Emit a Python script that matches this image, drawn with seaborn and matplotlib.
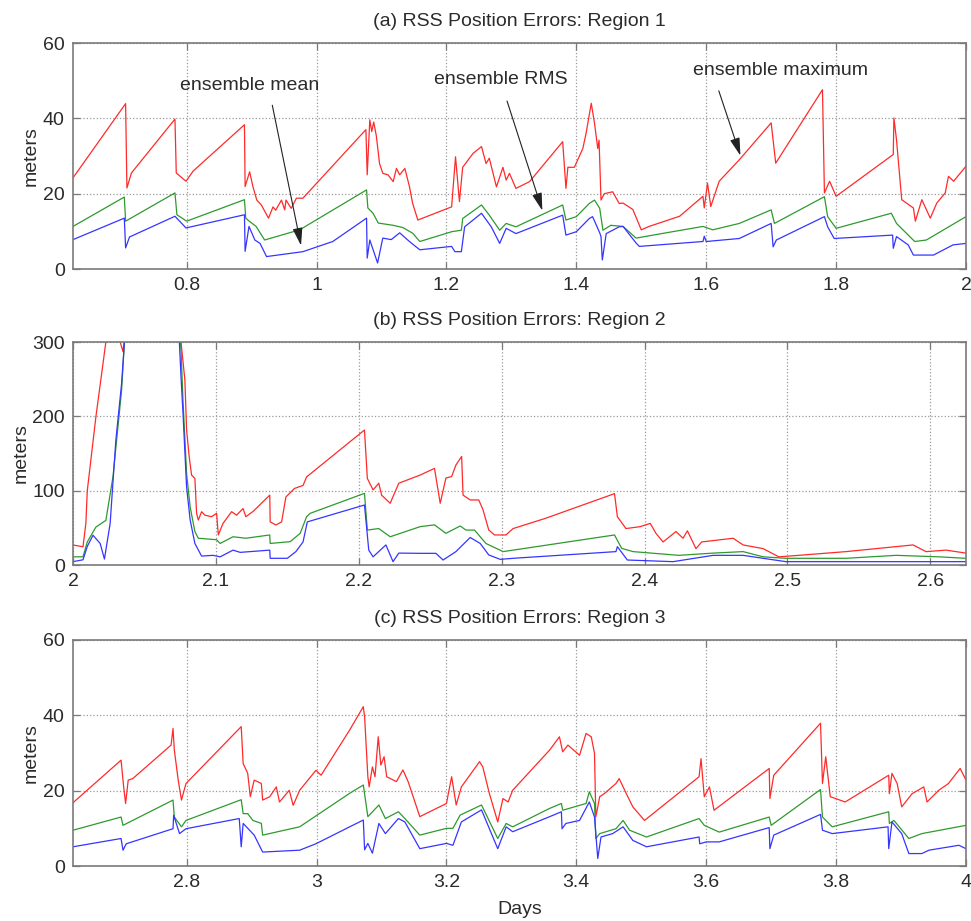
import matplotlib
matplotlib.use("Agg")
import matplotlib.pyplot as plt
import seaborn as sns

# ---------------- data ----------------
# Panel (a) Region 1
a_max_x = [0.625, 0.706, 0.708, 0.715, 0.782, 0.784, 0.799, 0.810, 0.889, 0.890, 0.897, 0.902, 0.908, 0.915, 0.926, 0.933, 0.937, 0.946, 0.951, 0.953, 0.961, 0.969, 0.979, 1.076, 1.078, 1.082, 1.085, 1.088, 1.092, 1.097, 1.102, 1.110, 1.118, 1.123, 1.128, 1.136, 1.143, 1.148, 1.156, 1.208, 1.214, 1.220, 1.225, 1.241, 1.254, 1.261, 1.266, 1.277, 1.287, 1.292, 1.297, 1.307, 1.328, 1.379, 1.384, 1.387, 1.397, 1.410, 1.415, 1.423, 1.428, 1.433, 1.435, 1.438, 1.443, 1.456, 1.466, 1.472, 1.487, 1.500, 1.512, 1.559, 1.595, 1.597, 1.602, 1.607, 1.620, 1.651, 1.700, 1.707, 1.779, 1.782, 1.790, 1.800, 1.888, 1.889, 1.893, 1.901, 1.919, 1.922, 1.932, 1.945, 1.955, 1.968, 1.973, 1.981, 2.0]
a_max_y = [24.2, 43.9, 21.5, 25.5, 39.8, 25.5, 23.3, 26, 38.3, 21.9, 25.8, 21.9, 18.3, 17, 13.5, 16.5, 15.6, 18.3, 15.7, 18.3, 16.1, 18.8, 18.8, 37, 25, 39.6, 36.5, 39, 35.4, 28, 25.4, 25, 23.2, 26.7, 25, 26.7, 21.9, 17.4, 13, 16.5, 29.8, 17.9, 27, 30.7, 32.5, 28, 29.4, 21.8, 27, 23.6, 25.4, 21.4, 23.2, 33.8, 21.4, 27, 27, 32, 36, 44, 38.7, 32, 34.2, 18.3, 20, 20.5, 17.4, 17.5, 15.8, 10.4, 11.3, 14, 19.3, 16.2, 22.8, 16.6, 23.3, 29, 38.8, 28.1, 47.6, 20.2, 23.3, 19.3, 30.4, 40.1, 34.3, 18.4, 16.2, 12.7, 18.4, 13.5, 17.5, 20.2, 24.6, 23.3, 27.3]
a_rms_x = [0.625, 0.704, 0.706, 0.782, 0.785, 0.800, 0.889, 0.891, 0.897, 0.907, 0.920, 0.974, 1.077, 1.079, 1.087, 1.095, 1.118, 1.133, 1.148, 1.159, 1.208, 1.223, 1.225, 1.254, 1.266, 1.282, 1.292, 1.307, 1.379, 1.384, 1.400, 1.420, 1.428, 1.436, 1.441, 1.453, 1.472, 1.492, 1.538, 1.595, 1.610, 1.651, 1.700, 1.705, 1.782, 1.787, 1.800, 1.885, 1.893, 1.921, 1.939, 2.0]
a_rms_y = [11.3, 19.1, 12.7, 20.2, 14.4, 12.7, 18.4, 13.5, 12.6, 11.3, 7.7, 10.4, 21, 16.2, 14.8, 12.2, 11.6, 11, 9.5, 7.3, 9.9, 10.3, 13.4, 17, 14.3, 10.3, 12.1, 11.2, 17, 13, 13.9, 17.4, 18.3, 16.1, 10.3, 11.6, 11.3, 8.2, 9.6, 11.3, 10.4, 12.1, 15.7, 12.1, 19.2, 13.9, 10.8, 14.8, 12.1, 7.3, 7.7, 13.9]
a_mean_x = [0.625, 0.704, 0.706, 0.712, 0.782, 0.799, 0.889, 0.890, 0.896, 0.905, 0.913, 0.923, 0.979, 1.025, 1.077, 1.078, 1.082, 1.094, 1.102, 1.115, 1.128, 1.143, 1.159, 1.208, 1.213, 1.223, 1.228, 1.254, 1.269, 1.282, 1.292, 1.307, 1.379, 1.384, 1.400, 1.420, 1.425, 1.436, 1.438, 1.440, 1.446, 1.466, 1.472, 1.492, 1.497, 1.595, 1.597, 1.600, 1.651, 1.700, 1.703, 1.708, 1.782, 1.787, 1.797, 1.887, 1.888, 1.893, 1.911, 1.919, 1.950, 1.960, 1.980, 2.0]
a_mean_y = [7.8, 13.5, 5.6, 8.5, 14, 10.9, 14.4, 4.7, 11.3, 7.7, 6.8, 3.3, 4.6, 7.3, 13.5, 2.9, 7.7, 1.6, 8.2, 7.8, 9.6, 7.3, 5.1, 6, 4.6, 4.6, 11.2, 14.8, 11.2, 6.8, 10.8, 9.4, 14.3, 9, 9.9, 13.4, 13.9, 9.6, 8.6, 2.4, 9.4, 11.2, 11.3, 6.9, 6, 7.3, 8.7, 7.3, 8.1, 12.1, 5.9, 7.7, 13.9, 11.2, 8.1, 9, 5.5, 8.6, 6.4, 3.7, 3.7, 4.6, 6.4, 6.8]

# Panel (b) Region 2
b_max_x = [2.0, 2.007, 2.009, 2.010, 2.016, 2.023, 2.028, 2.033, 2.035, 2.037, 2.070, 2.0756, 2.0783, 2.0795, 2.0813, 2.083, 2.0853, 2.0865, 2.0877, 2.090, 2.0923, 2.097, 2.1005, 2.1017, 2.105, 2.111, 2.1145, 2.119, 2.121, 2.126, 2.1377, 2.138, 2.142, 2.146, 2.149, 2.155, 2.161, 2.1635, 2.204, 2.206, 2.210, 2.214, 2.216, 2.222, 2.228, 2.243, 2.253, 2.257, 2.261, 2.265, 2.268, 2.272, 2.273, 2.278, 2.284, 2.287, 2.291, 2.295, 2.303, 2.308, 2.331, 2.379, 2.381, 2.387, 2.397, 2.404, 2.408, 2.413, 2.422, 2.427, 2.430, 2.436, 2.440, 2.462, 2.469, 2.483, 2.494, 2.508, 2.541, 2.588, 2.597, 2.611, 2.625]
b_max_y = [26.9, 24.6, 56, 100, 199, 300, 340, 300, 287, 320, 500, 300, 249, 181.6, 146, 121, 116.5, 69.5, 60.5, 71.7, 67, 65, 69.5, 40.4, 56, 71.7, 67, 76, 65, 72, 94, 58, 53.8, 58, 91.5, 103, 107, 118.5, 181.6, 116.5, 101, 110, 94, 83, 110, 121, 130, 83, 117, 119, 134.5, 146, 94, 87.5, 87.5, 74, 47, 40.4, 40.4, 49, 63, 96, 65, 49, 51.6, 56, 42.6, 31, 45, 36, 46, 22, 31, 36, 27, 22, 11, 13, 18, 27, 18, 20, 16]
b_rms_x = [2.0, 2.007, 2.010, 2.016, 2.023, 2.028, 2.034, 2.036, 2.040, 2.072, 2.0756, 2.077, 2.0795, 2.082, 2.0853, 2.0877, 2.1005, 2.103, 2.112, 2.121, 2.1377, 2.138, 2.152, 2.159, 2.1635, 2.166, 2.204, 2.206, 2.214, 2.222, 2.243, 2.253, 2.261, 2.271, 2.275, 2.281, 2.289, 2.301, 2.379, 2.384, 2.392, 2.424, 2.448, 2.469, 2.483, 2.499, 2.541, 2.576, 2.606, 2.625]
b_rms_y = [11, 11, 31, 51, 60, 119, 235, 300, 400, 400, 289, 221, 123, 78, 45, 36, 34, 29, 38, 36, 40.4, 29, 31.4, 42.6, 65, 69.5, 96.4, 47, 49, 38, 51.6, 54, 42.6, 52.5, 47, 47, 29, 18, 40.4, 22.4, 18, 13, 16, 18, 11, 9, 9, 13, 11, 9]
b_mean_x = [2.0, 2.007, 2.010, 2.014, 2.019, 2.022, 2.026, 2.030, 2.034, 2.036, 2.040, 2.072, 2.0756, 2.077, 2.0795, 2.082, 2.0853, 2.090, 2.098, 2.103, 2.112, 2.117, 2.1377, 2.138, 2.150, 2.156, 2.161, 2.164, 2.204, 2.207, 2.210, 2.219, 2.224, 2.228, 2.243, 2.254, 2.259, 2.268, 2.278, 2.285, 2.291, 2.299, 2.308, 2.380, 2.381, 2.388, 2.420, 2.448, 2.469, 2.483, 2.499, 2.625]
b_mean_y = [4.5, 7, 25, 40, 29, 8, 56, 168, 244, 300, 400, 400, 253, 204, 105, 60.5, 29, 12, 13, 11, 20, 17, 20, 9, 9, 18, 31, 58, 80.7, 20, 11, 27, 4.5, 16, 15.7, 15.7, 6.7, 18, 37, 29, 13.5, 7.6, 9, 18, 24.7, 6.7, 4.5, 13, 13, 9, 4.5, 4.5]

# Panel (c) Region 3
c_max_x = [2.625, 2.699, 2.703, 2.706, 2.710, 2.717, 2.776, 2.779, 2.781, 2.787, 2.792, 2.799, 2.884, 2.887, 2.894, 2.898, 2.904, 2.915, 2.917, 2.928, 2.938, 2.943, 2.958, 2.964, 2.974, 2.999, 3.007, 3.051, 3.072, 3.074, 3.079, 3.081, 3.086, 3.090, 3.095, 3.099, 3.104, 3.108, 3.123, 3.133, 3.141, 3.148, 3.159, 3.200, 3.208, 3.215, 3.223, 3.251, 3.256, 3.266, 3.279, 3.287, 3.295, 3.302, 3.359, 3.374, 3.379, 3.387, 3.405, 3.415, 3.423, 3.428, 3.430, 3.436, 3.443, 3.461, 3.466, 3.477, 3.487, 3.505, 3.589, 3.592, 3.597, 3.605, 3.612, 3.697, 3.698, 3.704, 3.776, 3.779, 3.784, 3.791, 3.814, 3.881, 3.882, 3.886, 3.894, 3.901, 3.917, 3.935, 3.940, 3.958, 3.973, 3.991, 4.0]
c_max_y = [16.8, 28.1, 21, 16.6, 22.8, 23.2, 32.1, 36.5, 30.8, 22.8, 17.5, 21.9, 37, 27.2, 24.6, 18.4, 22.8, 21.9, 17.5, 18.4, 21, 17, 20.1, 16.1, 20.1, 25.4, 24.1, 36.1, 42.3, 39.6, 23.7, 21, 26.3, 23.7, 34.3, 26.8, 29, 23.7, 22.4, 25.5, 22.4, 18.8, 13.1, 16.6, 23.7, 16.2, 21, 27.7, 26.3, 19.3, 11.7, 17.9, 17, 20.1, 30.8, 34.3, 30.3, 32.1, 29.4, 35.2, 34.3, 29.9, 13, 18.4, 19.2, 21.9, 23.2, 19.2, 15.7, 12.1, 23.7, 28.5, 18.4, 21, 14.8, 25.9, 17.9, 24.1, 37.9, 21.9, 29, 18.4, 17, 24.1, 19.2, 24.6, 21.9, 15.7, 19.2, 21, 17, 20.1, 21.9, 25.9, 22.8]
c_rms_x = [2.625, 2.699, 2.702, 2.779, 2.781, 2.792, 2.799, 2.884, 2.887, 2.894, 2.902, 2.915, 2.917, 2.974, 3.051, 3.072, 3.079, 3.084, 3.096, 3.106, 3.126, 3.136, 3.159, 3.200, 3.210, 3.221, 3.254, 3.279, 3.292, 3.302, 3.359, 3.377, 3.379, 3.415, 3.420, 3.428, 3.430, 3.436, 3.461, 3.472, 3.482, 3.508, 3.589, 3.597, 3.620, 3.697, 3.700, 3.776, 3.779, 3.794, 3.881, 3.882, 3.889, 3.912, 3.932, 4.0]
c_rms_y = [9.5, 13, 10.8, 17.5, 13, 10.4, 12.1, 17.6, 13.9, 13.9, 12.1, 11.3, 8.2, 10.4, 19.3, 21.5, 13.1, 14, 16.2, 12.6, 14.4, 12.6, 8.2, 10, 10, 13.5, 16.2, 7.3, 11.3, 10.4, 15.3, 16.6, 14.8, 16.6, 19.7, 16.6, 7.3, 8.6, 9.9, 12.1, 9.5, 7.7, 12.6, 10.8, 9, 13, 10.8, 20.3, 13, 10.4, 14.4, 11.3, 12.1, 7.3, 8.6, 10.8]
c_mean_x = [2.625, 2.699, 2.702, 2.707, 2.779, 2.780, 2.789, 2.799, 2.881, 2.884, 2.887, 2.904, 2.917, 2.974, 2.999, 3.051, 3.072, 3.074, 3.079, 3.086, 3.096, 3.106, 3.126, 3.136, 3.159, 3.200, 3.210, 3.223, 3.254, 3.279, 3.292, 3.302, 3.359, 3.377, 3.378, 3.384, 3.405, 3.420, 3.428, 3.433, 3.438, 3.456, 3.472, 3.487, 3.508, 3.589, 3.590, 3.600, 3.620, 3.697, 3.698, 3.704, 3.776, 3.779, 3.794, 3.880, 3.881, 3.886, 3.901, 3.912, 3.932, 3.943, 3.989, 4.0]
c_mean_y = [5.1, 7.3, 4.2, 5.9, 9.9, 13.5, 8.6, 9.9, 12.6, 5.1, 11.3, 8.2, 3.7, 4.2, 5.9, 10.4, 12.2, 4.3, 6, 3.4, 11.3, 8.6, 12.6, 11.7, 4.6, 6, 5.5, 11.7, 14.9, 4.6, 10.4, 9.1, 13.1, 14.4, 9.9, 11.3, 12.1, 17, 13, 2, 7.7, 8.6, 10.4, 6.8, 5.1, 7.7, 5.9, 6.4, 6.4, 10.2, 4.6, 8.2, 13.7, 9.5, 8.6, 10.4, 4.6, 11.7, 8.6, 3.3, 3.3, 4.2, 5.5, 4.6]

titles = ["(a) RSS Position Errors: Region 1",
          "(b) RSS Position Errors: Region 2",
          "(c) RSS Position Errors: Region 3"]
a_ticks = [0.8, 1.0, 1.2, 1.4, 1.6, 1.8, 2.0]
a_ticklabels = ["0.8", "1", "1.2", "1.4", "1.6", "1.8", "2"]
b_ticks = [2.0, 2.1, 2.2, 2.3, 2.4, 2.5, 2.6]
b_ticklabels = ["2", "2.1", "2.2", "2.3", "2.4", "2.5", "2.6"]
c_ticks = [2.8, 3.0, 3.2, 3.4, 3.6, 3.8, 4.0]
c_ticklabels = ["2.8", "3", "3.2", "3.4", "3.6", "3.8", "4"]
a_yticks = [0, 20, 40, 60]
b_yticks = [0, 100, 200, 300]
c_yticks = [0, 20, 40, 60]

# ---------------- style ----------------
sns.set_theme(style="white")
plt.rcParams['font.family'] = ['Liberation Sans', 'DejaVu Sans']
TXT = "#2b2b2b"
SPINE = "#7a7a7a"
RED, GREEN, BLUE = "#ff2a2a", "#2e9a2e", "#3535ff"
FS = 14

fig = plt.figure(figsize=(9.71, 9.21), dpi=100)
positions = [
    [73/971, 1 - 269/921, 893/971, 226/921],
    [73/971, 1 - 565/921, 893/971, 223/921],
    [73/971, 1 - 866/921, 893/971, 226/921],
]
panels = [
    (a_max_x, a_max_y, a_rms_x, a_rms_y, a_mean_x, a_mean_y, (0.625, 2.0), (0, 60), a_ticks, a_ticklabels, a_yticks),
    (b_max_x, b_max_y, b_rms_x, b_rms_y, b_mean_x, b_mean_y, (2.0, 2.625), (0, 300), b_ticks, b_ticklabels, b_yticks),
    (c_max_x, c_max_y, c_rms_x, c_rms_y, c_mean_x, c_mean_y, (2.625, 4.0), (0, 60), c_ticks, c_ticklabels, c_yticks),
]
axes = []
for i, (pos, p) in enumerate(zip(positions, panels)):
    mx, my, rx, ry, ex, ey, xlim, ylim, xt, xtl, yt = p
    ax = fig.add_axes(pos)
    axes.append(ax)
    sns.lineplot(x=mx, y=my, ax=ax, color=RED, linewidth=0.9, estimator=None, sort=False)
    sns.lineplot(x=rx, y=ry, ax=ax, color=GREEN, linewidth=0.9, estimator=None, sort=False)
    sns.lineplot(x=ex, y=ey, ax=ax, color=BLUE, linewidth=0.9, estimator=None, sort=False)
    ax.set_xlim(*xlim)
    ax.set_ylim(*ylim)
    ax.set_xticks(xt)
    ax.set_xticklabels(xtl)
    ax.set_yticks(yt)
    ax.grid(True, linestyle=':', color='#9a9a9a', linewidth=0.9)
    ax.tick_params(axis='both', which='both', direction='in', length=5, width=0.9,
                   color=SPINE, labelcolor=TXT, labelsize=FS, top=True, right=True,
                   bottom=True, left=True, pad=6)
    for s in ax.spines.values():
        s.set_color(SPINE)
        s.set_linewidth(1.2)
    ax.set_ylabel("meters", fontsize=FS, color=TXT, labelpad=2)
    ax.set_xlabel("")
    ax.set_title(titles[i], fontsize=FS, color=TXT, pad=12)

axes[2].set_xlabel("Days", fontsize=FS, color=TXT, labelpad=7)

# annotations in panel (a)
ax = axes[0]
ann_kw = dict(arrowstyle='-|>,head_length=0.9,head_width=0.25', color='#222222', lw=0.8)
ax.text(0.897, 48.6, "ensemble mean", ha='center', va='center', fontsize=FS, color=TXT)
ax.annotate("", xy=(0.977, 5.5), xytext=(0.931, 44.2), arrowprops=ann_kw)
ax.text(1.283, 50.2, "ensemble RMS", ha='center', va='center', fontsize=FS, color=TXT)
ax.annotate("", xy=(1.349, 14.8), xytext=(1.292, 45.3), arrowprops=ann_kw)
ax.text(1.714, 52.8, "ensemble maximum", ha='center', va='center', fontsize=FS, color=TXT)
ax.annotate("", xy=(1.654, 29.4), xytext=(1.618, 48.0), arrowprops=ann_kw)

fig.savefig("out.png", dpi=100)
